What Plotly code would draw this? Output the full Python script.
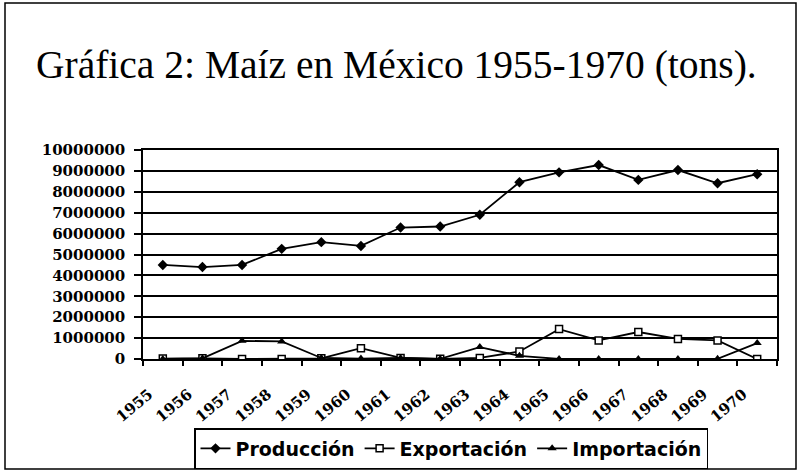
import plotly.graph_objects as go

# Años y series (toneladas)
years = ['1955', '1956', '1957', '1958', '1959', '1960', '1961', '1962',
         '1963', '1964', '1965', '1966', '1967', '1968', '1969', '1970']
produccion = [4500000, 4400000, 4500000, 5270000, 5590000, 5410000, 6290000, 6340000,
              6900000, 8460000, 8930000, 9280000, 8570000, 9040000, 8410000, 8840000]
exportacion = [20000, 30000, 0, 0, 30000, 520000, 50000, 10000,
               50000, 360000, 1430000, 890000, 1290000, 960000, 890000, 0]
importacion = [0, 30000, 870000, 840000, 50000, 20000, 50000, 10000,
               570000, 150000, 0, 0, 0, 0, 10000, 760000]
y_ticks = [0, 1000000, 2000000, 3000000, 4000000, 5000000,
           6000000, 7000000, 8000000, 9000000, 10000000]

# plot area in pixels
W, H = 799, 471
L, R, T, B = 143, 22, 150, 112
pw, ph = W - L - R, H - T - B

fig = go.Figure()

fig.add_trace(go.Scatter(
    x=years, y=produccion, name='Producción', mode='lines+markers',
    line=dict(color='black', width=1.8),
    marker=dict(symbol='diamond', size=8, color='black'),
))
fig.add_trace(go.Scatter(
    x=years, y=exportacion, name='Exportación', mode='lines+markers',
    line=dict(color='black', width=1.8),
    marker=dict(symbol='square', size=7, color='white', line=dict(color='black', width=1.5)),
))
fig.add_trace(go.Scatter(
    x=years, y=importacion, name='Importación', mode='lines+markers',
    line=dict(color='black', width=1.8),
    marker=dict(symbol='triangle-up', size=8, color='black'),
))

# outer frame of the picture
def px_x(v):
    return (v - L) / pw

def px_y(v):
    return (H - B - v) / ph

fig.add_shape(type='rect', xref='paper', yref='paper',
              x0=px_x(5), x1=px_x(796), y0=px_y(469), y1=px_y(3),
              line=dict(color='black', width=1.5))

tick_font = dict(family='DejaVu Serif', size=15, color='black', weight='bold')

fig.update_layout(
    width=W, height=H,
    margin=dict(l=L, r=R, t=T, b=B, autoexpand=False),
    paper_bgcolor='white',
    plot_bgcolor='white',
    title=dict(
        text='Gráfica 2: Maíz en México 1955-1970 (tons).',
        font=dict(family='Liberation Serif', size=39.5, color='black'),
        xref='container', yref='container',
        x=36 / W, xanchor='left', y=1 - 64 / H, yanchor='middle',
        pad=dict(l=0, r=0, t=0, b=0),
    ),
    xaxis=dict(
        type='category', range=[-0.5, len(years) - 0.5],
        tickson='boundaries', ticks='outside', ticklen=5,
        tickcolor='black', tickwidth=1.5, tickangle=-40, tickfont=tick_font,
        showgrid=False, showline=True, linecolor='black', linewidth=1.5, mirror=True,
        ticklabelstandoff=19, ticklabelshift=-14, automargin=False,
    ),
    yaxis=dict(
        range=[0, 10000000], tickvals=y_ticks, ticktext=[str(v) for v in y_ticks],
        ticks='outside', ticklen=7, tickcolor='black', tickwidth=1.5, tickfont=tick_font,
        showgrid=True, gridcolor='black', gridwidth=1.5, zeroline=False,
        showline=True, linecolor='black', linewidth=1.5, mirror=True,
        ticklabelstandoff=6, automargin=False,
    ),
    legend=dict(
        orientation='h', x=px_x(451), xanchor='center', y=px_y(428), yanchor='top',
        font=dict(family='DejaVu Sans', size=19, color='black', weight='bold'),
        bordercolor='black', borderwidth=1.5, bgcolor='white',
        itemwidth=30, tracegroupgap=0,
    ),
    showlegend=True,
)

# the page has a default 8px body margin; drop it so the figure sits at 0,0
fig.write_html('out.html', config={'displayModeBar': False},
               post_script="document.body.style.margin='0';")
